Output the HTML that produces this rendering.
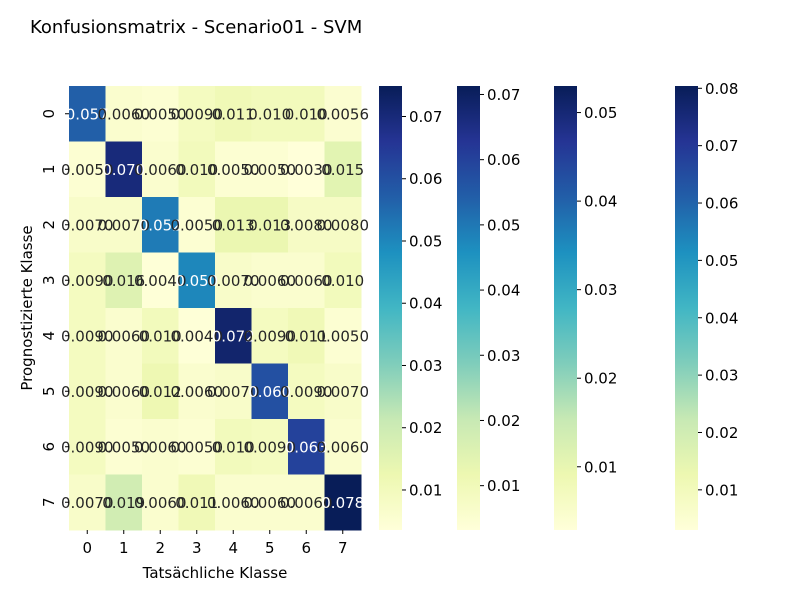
<!DOCTYPE html>
<html><head><meta charset="utf-8"><style>
body{margin:0;background:#fff;font-family:"Liberation Sans","DejaVu Sans",sans-serif}
svg text{font-family:"DejaVu Sans","Liberation Sans",sans-serif}
</style></head><body>
<svg id="c" width="800" height="600" viewBox="0 0 800 600">
<text x="30" y="33" font-size="18" fill="#000">Konfusionsmatrix - Scenario01 - SVM</text>
<text x="215" y="578" font-size="15" text-anchor="middle">Tatsächliche Klasse</text>
<text transform="translate(32,308) rotate(-90)" font-size="15" text-anchor="middle">Prognostizierte Klasse</text>
<defs><linearGradient id="cm" x1="0" y1="1" x2="0" y2="0">
<stop offset="0" stop-color="#ffffd9"/><stop offset=".125" stop-color="#edf8b1"/><stop offset=".25" stop-color="#c7e9b4"/><stop offset=".375" stop-color="#7fcdbb"/><stop offset=".5" stop-color="#41b6c4"/><stop offset=".625" stop-color="#1d91c0"/><stop offset=".75" stop-color="#225ea8"/><stop offset=".875" stop-color="#253494"/><stop offset="1" stop-color="#081d58"/></linearGradient></defs>
<g id="cells"></g><g id="bars"></g>
</svg>
<script>
const classes=[0,1,2,3,4,5,6,7];
const row0=[0.057,0.006,0.005,0.009,0.011,0.010,0.010,0.0056];
const row1=[0.005,0.070,0.006,0.010,0.005,0.005,0.003,0.015];
const row2=[0.007,0.007,0.052,0.005,0.013,0.013,0.008,0.008];
const row3=[0.009,0.016,0.004,0.050,0.007,0.006,0.006,0.010];
const row4=[0.009,0.006,0.010,0.004,0.072,0.009,0.011,0.005];
const row5=[0.009,0.006,0.012,0.006,0.007,0.060,0.009,0.007];
const row6=[0.009,0.005,0.006,0.005,0.010,0.009,0.063,0.006];
const row7=[0.007,0.019,0.006,0.011,0.006,0.006,0.006,0.078];
const matrix=[row0,row1,row2,row3,row4,row5,row6,row7];
const cbTicks1=[0.01,0.02,0.03,0.04,0.05,0.06,0.07];
const cbTicks2=[0.01,0.02,0.03,0.04,0.05,0.06,0.07];
const cbTicks3=[0.01,0.02,0.03,0.04,0.05];
const cbTicks4=[0.01,0.02,0.03,0.04,0.05,0.06,0.07,0.08];
const NS="http://www.w3.org/2000/svg";
const stops=[[0,"#ffffd9"],[.125,"#edf8b1"],[.25,"#c7e9b4"],[.375,"#7fcdbb"],[.5,"#41b6c4"],[.625,"#1d91c0"],[.75,"#225ea8"],[.875,"#253494"],[1,"#081d58"]];
function hx(h){return [1,3,5].map(i=>parseInt(h.substr(i,2),16));}
function cmap(t){t=Math.max(0,Math.min(1,t));for(let i=1;i<stops.length;i++){if(t<=stops[i][0]){const a=stops[i-1],b=stops[i];const f=(t-a[0])/(b[0]-a[0]);const ca=hx(a[1]),cb=hx(b[1]);return "rgb("+ca.map((v,k)=>Math.round(v+(cb[k]-v)*f)).join(",")+")";}}return stops[8][1];}
const vmin=0.0035,vmax=0.075;
const X0=69,Y0=86,W=292,H=444;
const cw=W/classes.length,ch=H/classes.length;
const xs=i=>X0+i*cw, ys=j=>Y0+j*ch;
function el(tag,attrs,parent){const e=document.createElementNS(NS,tag);for(const k in attrs)e.setAttribute(k,attrs[k]);parent.appendChild(e);return e;}
const g=document.getElementById('cells');
matrix.forEach((row,r)=>row.forEach((v,c)=>{
 const t=(v-vmin)/(vmax-vmin);
 const rect=el('rect',{x:xs(c),y:ys(r),width:cw+0.5,height:ch+0.5,fill:cmap(t)},g);
 
 
}));
matrix.forEach((row,r)=>row.forEach((v,c)=>{
 const t=(v-vmin)/(vmax-vmin);
 const tx=el('text',{x:xs(c)+cw/2,y:ys(r)+ch/2+5.5,'font-size':15,'text-anchor':'middle',fill:t>0.5?'#fff':'#262626'},g);
 tx.textContent=v>=0.01?v.toFixed(3):v.toFixed(4);
 
 
}));
classes.forEach((k,i)=>{
 const cx=xs(i)+cw/2;
 el('line',{x1:cx,x2:cx,y1:Y0+H,y2:Y0+H+4,stroke:'#000'},g);
 const t=el('text',{x:cx,y:553,'font-size':15,'text-anchor':'middle'},g);
 t.textContent=k;
 
 
 const cy=ys(i)+ch/2;
 el('line',{x1:X0-4,x2:X0,y1:cy,y2:cy,stroke:'#000'},g);
 const u=el('text',{transform:'translate(54,'+cy+') rotate(-90)','font-size':15,'text-anchor':'middle'},g);
 u.textContent=k;
 
 
});
const b=document.getElementById('bars');
const bars=[[379,cbTicks1,0.00357,0.0749],[457,cbTicks2,0.0032,0.0713],[554,cbTicks3,0.00286,0.053],[675,cbTicks4,0.003,0.0804]];
bars.forEach(([x,ticks,lo,hi],n)=>{
 const r=el('rect',{x:x,y:Y0,width:23,height:H,fill:'url(#cm)'},b);
 
 
 ticks.forEach(v=>{
  const y=Y0+H-(v-lo)/(hi-lo)*H;
  el('line',{x1:x+23,x2:x+27,y1:y,y2:y,stroke:'#000'},b);
  const t=el('text',{x:x+30,y:y+5.5,'font-size':15},b);
  t.textContent=v.toFixed(2);
  
  
 });
});
</script>
</body></html>
